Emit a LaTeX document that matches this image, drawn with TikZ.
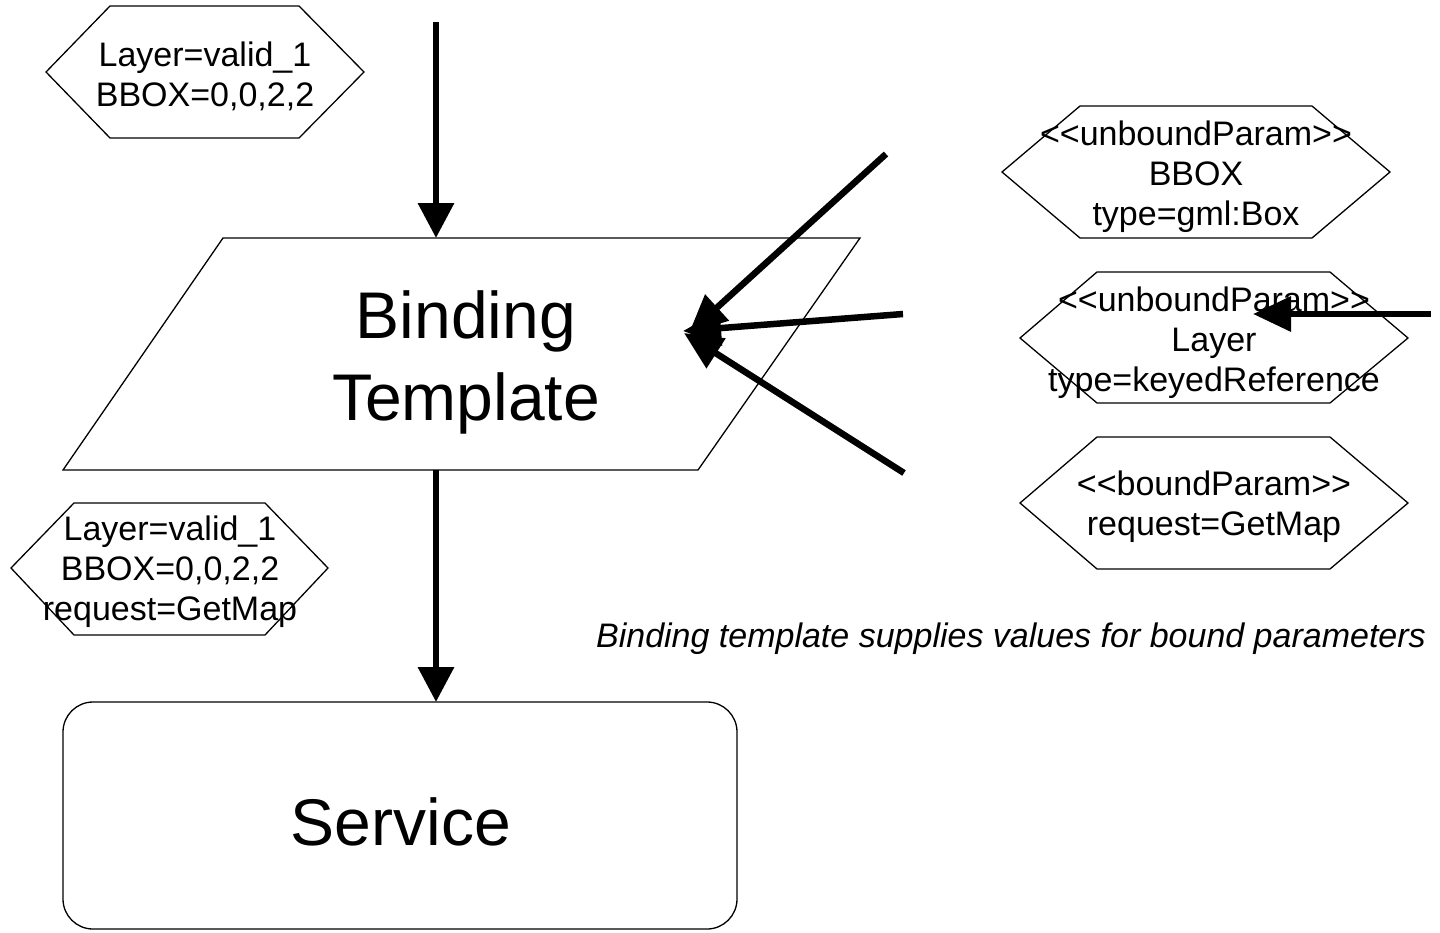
\documentclass[tikz,border=0pt]{standalone}
\usepackage{fontspec}
\setmainfont{Liberation Sans}
\usetikzlibrary{arrows.meta}
\newcommand\ltlt{<\kern0pt<}
\newcommand\gtgt{>\kern0pt>}
\begin{document}
\begin{tikzpicture}[x=1pt,y=-1pt,
  outline/.style={draw=black,line width=1.3pt,line join=miter},
  small/.style={font=\fontsize{34}{40}\selectfont,align=center,inner sep=0pt},
  big/.style={font=\fontsize{66}{82}\selectfont,align=center,inner sep=0pt},
  captext/.style={font=\fontsize{34}{40}\selectfont\itshape,inner sep=0pt},
  flow/.style={line width=6.5pt,-{Triangle[length=35pt,width=35pt]}},
  feed/.style={line width=6.5pt,-{Triangle[length=38pt,width=34pt]}}]
\useasboundingbox (0,0) rectangle (1440,932);
% hexagon: valid values (top-left)
\draw[outline] (46,72) -- (110,6) -- (299,6) -- (364,72) -- (299,138) -- (110,138) -- cycle;
\node[small] (h1) at (205,76) {Layer=valid\_1\\BBOX=0,0,2,2};
% binding template parallelogram
\draw[outline] (223,238) -- (860,238) -- (698,470) -- (63,470) -- cycle;
\node[big] (bt) at (466,362) {Binding\\Template};
\coordinate (btTop) at (436,238);
\coordinate (btBot) at (436,470);
\coordinate (topStart) at (436,22);
\coordinate (tip) at (683,331);
% service
\draw[outline,rounded corners=30pt] (63,702) rectangle (737,929);
\node[big] (svc) at (401,822) {Service};
\coordinate (svcTop) at (436,702);
% hexagon: values (bottom-left)
\draw[outline] (11,568) -- (74,503) -- (265,503) -- (328,568) -- (265,635) -- (74,635) -- cycle;
\node[small] (h2) at (170,572) {Layer=valid\_1\\BBOX=0,0,2,2\\request=GetMap};
% unbound BBOX
\draw[outline] (1002,172) -- (1080,106) -- (1312,106) -- (1390,172) -- (1312,238) -- (1080,238) -- cycle;
\node[small] (h3) at (1196,177) {\ltlt unboundParam\gtgt\\BBOX\\type=gml:Box};
% unbound Layer
\draw[outline] (1020,338) -- (1097,272) -- (1330,272) -- (1408,338) -- (1330,403) -- (1097,403) -- cycle;
\node[small] (h4) at (1214,343) {\ltlt unboundParam\gtgt\\Layer\\type=keyedReference};
\coordinate (h4in) at (1253,314);
\coordinate (h4src) at (1431,314);
% bound request
\draw[outline] (1020,503) -- (1097,437) -- (1330,437) -- (1408,503) -- (1330,569) -- (1097,569) -- cycle;
\node[small] (h5) at (1214,507) {\ltlt boundParam\gtgt\\request=GetMap};
% caption
\node[captext] (caption) at (1011,639) {Binding template supplies values for bound parameters};
% arrows
\coordinate (srcA) at (886,154);
\coordinate (srcB) at (903,314);
\coordinate (srcC) at (904,473);
\draw[flow] (topStart) -- (btTop);
\draw[flow] (btBot) -- (svcTop);
\draw[feed] (srcA) -- (689,333);
\draw[feed] (srcB) -- (tip);
\draw[feed] (srcC) -- (684,333);
\draw[feed] (h4src) -- (h4in);
\end{tikzpicture}
\end{document}
